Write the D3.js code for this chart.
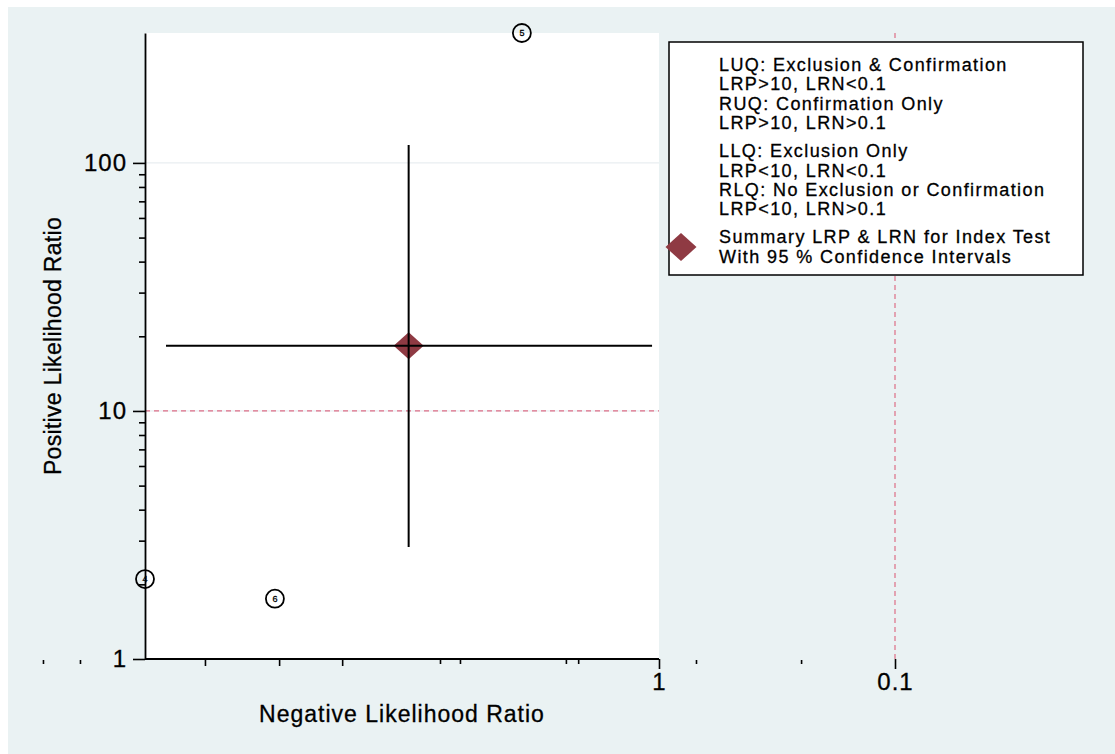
<!DOCTYPE html>
<html>
<head>
<meta charset="utf-8">
<script src="https://cdn.jsdelivr.net/npm/d3@7"></script>
<style>
body { margin: 0; background: #fff; }
svg text { font-family: "Liberation Sans", Arial, sans-serif; fill: #000; stroke: #000; stroke-width: 0.3px; }
</style>
</head>
<body>
<svg id="chart" width="1115" height="754"></svg>
<script>

// study points
var studyIds = [4, 6, 5];
var studyLRN = [150.6, 42.4, 3.81];
var studyLRP = [2.10, 1.75, 334];

// summary point: [estimate, lower, upper]
var summaryLRN = [11.5, 1.07, 122.7];
var summaryLRP = [18.3, 2.83, 118];

// thresholds
var lrpCut = 10;
var lrnCut = 0.1;

// axes
var plotLRN = [150.6, 1];
var plotLRP = [1, 334];
var yTicks = [1, 10, 100];
var yMinorTicks = [2, 3, 4, 5, 6, 7, 8, 9, 20, 30, 40, 50, 60, 70, 80, 90];
var xTicks = [1, 0.1];
var xTickLabels = ['1', '0.1'];
var xMinorTicks = [83.9, 40.7, 22.0];
var xSmallTicks = [407.5, 284, 8.47, 6.97, 2.48, 2.20, 0.697, 0.25];

var legendGroups = [
    ['LUQ: Exclusion & Confirmation', 'LRP>10, LRN<0.1', 'RUQ: Confirmation Only', 'LRP>10, LRN>0.1'],
    ['LLQ: Exclusion Only', 'LRP<10, LRN<0.1', 'RLQ: No Exclusion or Confirmation', 'LRP<10, LRN>0.1'],
    ['Summary LRP & LRN for Index Test', 'With 95 % Confidence Intervals']
];

var maroon = '#8f3a43';
var dashRed = '#dc6e86';

function drawChart(){
    var svg = d3.select('#chart');

    svg.append('rect')
        .attr('x', 8).attr('y', 7)
        .attr('width', 1107).attr('height', 747)
        .attr('fill', '#eaf2f3');

    var x = d3.scaleLog().domain([150.6, 0.1]).range([145, 895]);
    var y = d3.scaleLog().domain(plotLRP).range([659, 33]);

    var x0 = x(plotLRN[0]), x1 = x(plotLRN[1]);
    var yTop = y(plotLRP[1]), yBot = y(plotLRP[0]);

    svg.append('rect')
        .attr('x', x0).attr('y', yTop)
        .attr('width', x1 - x0).attr('height', yBot - yTop)
        .attr('fill', '#fff');

    // gridlines
    svg.selectAll('.grid')
        .data(yTicks)
        .enter().append('line')
            .attr('class', 'grid')
            .attr('x1', x0).attr('x2', x1)
            .attr('y1', function(d){ return y(d); })
            .attr('y2', function(d){ return y(d); })
            .attr('stroke', '#e3eaed')
            .attr('stroke-width', 1);

    // cut-off lines
    svg.append('line')
        .attr('x1', x0).attr('x2', x1)
        .attr('y1', y(lrpCut)).attr('y2', y(lrpCut))
        .attr('stroke', dashRed).attr('stroke-width', 1.2)
        .attr('stroke-dasharray', '5,4');
    svg.append('line')
        .attr('x1', x(lrnCut)).attr('x2', x(lrnCut))
        .attr('y1', yTop).attr('y2', yBot)
        .attr('stroke', dashRed).attr('stroke-width', 1.2)
        .attr('stroke-dasharray', '5,4');

    // y axis
    var yAxis = svg.append('g').attr('transform', 'translate(' + x0 + ',0)')
        .call(d3.axisLeft(y).tickValues(yTicks).tickSize(12).tickSizeOuter(0)
            .tickPadding(6).tickFormat(d3.format('d')));
    yAxis.selectAll('text').attr('font-size', '24px').attr('letter-spacing', '1px')
        .attr('font-family', null);
    svg.append('g').attr('transform', 'translate(' + x0 + ',0)')
        .call(d3.axisLeft(y).tickValues(yMinorTicks).tickSize(6).tickFormat(''))
        .select('.domain').remove();

    // x axis
    var xAxis = svg.append('g').attr('transform', 'translate(0,' + yBot + ')')
        .call(d3.axisBottom(x).tickValues(xTicks).tickSize(10).tickPadding(4)
            .tickFormat(function(d, i){ return xTickLabels[i]; }));
    xAxis.select('.domain').remove();
    xAxis.selectAll('text').attr('font-size', '24px').attr('letter-spacing', '1px')
        .attr('font-family', null);
    svg.append('g').attr('transform', 'translate(0,' + yBot + ')')
        .call(d3.axisBottom(x).tickValues(xMinorTicks).tickSize(7).tickFormat(''))
        .select('.domain').remove();
    svg.append('g').attr('transform', 'translate(0,' + (yBot + 1) + ')')
        .call(d3.axisBottom(x).tickValues(xSmallTicks).tickSize(4).tickFormat(''))
        .select('.domain').remove();
    svg.append('line')
        .attr('x1', x0).attr('x2', x1)
        .attr('y1', yBot).attr('y2', yBot)
        .attr('stroke', '#000').attr('stroke-width', 1.8);

    svg.selectAll('.tick line').attr('stroke-width', 1.6);
    yAxis.select('.domain').attr('stroke-width', 1.8);

    // axis titles
    svg.append('text')
        .attr('x', (x0 + x1) / 2).attr('y', 722)
        .attr('text-anchor', 'middle')
        .attr('font-size', '23px')
        .attr('letter-spacing', '1px')
        .text('Negative Likelihood Ratio');
    svg.append('text')
        .attr('transform', 'translate(61,' + ((yTop + yBot) / 2) + ') rotate(-90)')
        .attr('text-anchor', 'middle')
        .attr('font-size', '23px')
        .attr('letter-spacing', '0.3px')
        .text('Positive Likelihood Ratio');

    // summary diamond + CIs
    var sx = x(summaryLRN[0]), sy = y(summaryLRP[0]);
    svg.append('path')
        .attr('d', 'M' + sx + ',' + (sy - 13.5) + 'L' + (sx + 15) + ',' + sy +
            'L' + sx + ',' + (sy + 13.5) + 'L' + (sx - 15) + ',' + sy + 'Z')
        .attr('fill', maroon);
    svg.append('line')
        .attr('x1', x(summaryLRN[2])).attr('x2', x(summaryLRN[1]))
        .attr('y1', sy).attr('y2', sy)
        .attr('stroke', '#000').attr('stroke-width', 2);
    svg.append('line')
        .attr('x1', sx).attr('x2', sx)
        .attr('y1', y(summaryLRP[2])).attr('y2', y(summaryLRP[1]))
        .attr('stroke', '#000').attr('stroke-width', 2);

    // study circles
    var studies = svg.selectAll('.study')
        .data(studyIds)
        .enter().append('g')
            .attr('class', 'study')
            .attr('transform', function(d, i){
                return 'translate(' + x(studyLRN[i]) + ',' + y(studyLRP[i]) + ')';
            });
    studies.append('circle')
        .attr('r', 9)
        .attr('fill', 'none')
        .attr('stroke', '#000')
        .attr('stroke-width', 1.8);
    studies.append('text')
        .attr('text-anchor', 'middle')
        .attr('dy', '0.35em')
        .attr('font-size', '9px')
        .attr('stroke-width', 0.1)
        .text(function(d){ return d; });

    // legend
    var lx = 669, ly = 42;
    svg.append('rect')
        .attr('x', lx).attr('y', ly)
        .attr('width', 414).attr('height', 233)
        .attr('fill', '#fff')
        .attr('stroke', '#000')
        .attr('stroke-width', 1.5);

    var base = 71, step = 19.3, gap = 9;
    legendGroups.forEach(function(lines, g){
        lines.forEach(function(t, k){
            svg.append('text')
                .attr('x', 719).attr('y', base)
                .attr('font-size', '18px')
                .attr('letter-spacing', '1.4px')
                .text(t);
            if (k < lines.length - 1) base += step;
        });
        if (g === legendGroups.length - 1) {
            var my = base - step / 2 - 6;
            svg.append('path')
                .attr('d', 'M681,' + (my - 14) + 'L696.5,' + my + 'L681,' + (my + 14) + 'L665.5,' + my + 'Z')
                .attr('fill', maroon);
        }
        base += step + gap;
    });
}

drawChart();
</script>
</body>
</html>
